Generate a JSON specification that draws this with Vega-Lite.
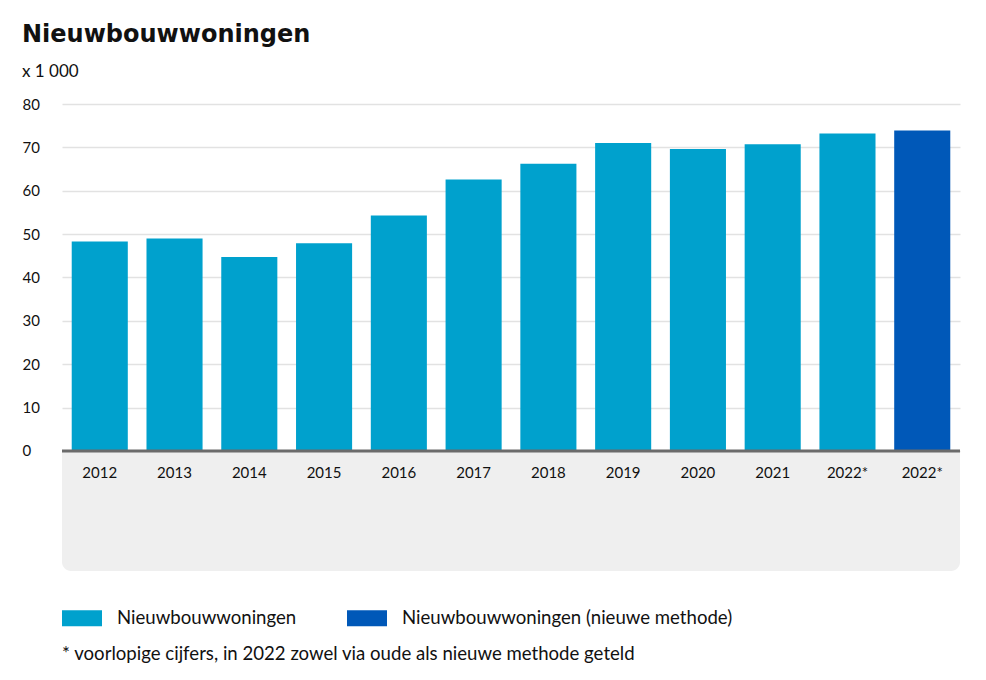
{
  "$schema": "https://vega.github.io/schema/vega-lite/v6.json",
  "width": 898,
  "height": 467,
  "padding": {"left": 22, "top": 23, "right": 26, "bottom": 6},
  "title": {
    "text": "Nieuwbouwwoningen",
    "subtitle": "x 1 000",
    "anchor": "start",
    "frame": "bounds",
    "font": "DejaVu Sans",
    "fontSize": 24,
    "fontWeight": "bold",
    "color": "#111111",
    "subtitleFont": "Lato",
    "subtitleFontSize": 17,
    "subtitleColor": "#111111",
    "subtitlePadding": 17,
    "offset": 17
  },
  "config": {
    "view": {"stroke": null},
    "font": "Lato"
  },
  "layer": [
    {
      "data": {
        "values": [
          {"jaar": "2012", "waarde": 48.3, "serie": "Nieuwbouwwoningen"},
          {"jaar": "2013", "waarde": 49.0, "serie": "Nieuwbouwwoningen"},
          {"jaar": "2014", "waarde": 44.7, "serie": "Nieuwbouwwoningen"},
          {"jaar": "2015", "waarde": 47.9, "serie": "Nieuwbouwwoningen"},
          {"jaar": "2016", "waarde": 54.3, "serie": "Nieuwbouwwoningen"},
          {"jaar": "2017", "waarde": 62.6, "serie": "Nieuwbouwwoningen"},
          {"jaar": "2018", "waarde": 66.2, "serie": "Nieuwbouwwoningen"},
          {"jaar": "2019", "waarde": 71.0, "serie": "Nieuwbouwwoningen"},
          {"jaar": "2020", "waarde": 69.6, "serie": "Nieuwbouwwoningen"},
          {"jaar": "2021", "waarde": 70.7, "serie": "Nieuwbouwwoningen"},
          {"jaar": "2022*", "waarde": 73.2, "serie": "Nieuwbouwwoningen"},
          {"jaar": "2022* nieuw", "waarde": 73.9, "serie": "Nieuwbouwwoningen (nieuwe methode)"}
        ]
      },
      "mark": {"type": "bar"},
      "encoding": {
        "x": {
          "field": "jaar",
          "type": "nominal",
          "sort": null,
          "scale": {"paddingInner": 0.25, "paddingOuter": 0.13},
          "axis": {
            "title": null,
            "orient": "bottom",
            "offset": -120,
            "zindex": 1,
            "domain": false,
            "ticks": false,
            "labelAngle": 0,
            "labelPadding": 14,
            "labelFont": "Lato",
            "labelFontSize": 15,
            "labelColor": "#111111",
            "labelExpr": "slice(datum.label, 0, 5)"
          }
        },
        "y": {
          "field": "waarde",
          "type": "quantitative",
          "scale": {"domain": [-27.67, 80], "nice": false, "zero": false},
          "axis": {
            "title": null,
            "values": [0, 10, 20, 30, 40, 50, 60, 70, 80],
            "grid": true,
            "gridColor": "#e2e2e2",
            "gridWidth": 1.5,
            "domain": false,
            "ticks": false,
            "labelAlign": "left",
            "labelPadding": 40,
            "labelFont": "Lato",
            "labelFontSize": 15,
            "labelColor": "#111111"
          }
        },
        "y2": {"datum": 0},
        "color": {
          "field": "serie",
          "type": "nominal",
          "scale": {
            "domain": ["Nieuwbouwwoningen", "Nieuwbouwwoningen (nieuwe methode)"],
            "range": ["#00a1cd", "#0058b8"]
          },
          "legend": {
            "orient": "bottom",
            "direction": "horizontal",
            "offset": 27,
            "title": "* voorlopige cijfers, in 2022 zowel via oude als nieuwe methode geteld",
            "titleOrient": "bottom",
            "titleAnchor": "start",
            "titleFont": "Lato",
            "titleFontSize": 18.6,
            "titleFontWeight": "normal",
            "titleColor": "#111111",
            "titleLimit": 1000,
            "titlePadding": 17,
            "symbolType": "M-1,-0.4H1V0.4H-1Z",
            "symbolSize": 1600,
            "symbolStrokeWidth": 0,
            "symbolOpacity": 1,
            "labelFont": "Lato",
            "labelFontSize": 18.6,
            "labelColor": "#111111",
            "labelOffset": 15,
            "labelLimit": 500,
            "columnPadding": 50
          }
        }
      }
    },
    {
      "data": {"values": [{"onder": -27.67, "boven": 0}]},
      "mark": {"type": "rect", "color": "#efefef", "cornerRadiusBottomLeft": 9, "cornerRadiusBottomRight": 9},
      "encoding": {
        "y": {"field": "onder", "type": "quantitative"},
        "y2": {"field": "boven"}
      }
    },
    {
      "data": {"values": [{"nul": 0}]},
      "mark": {"type": "rule", "color": "#6b6b6b", "strokeWidth": 3},
      "encoding": {
        "y": {"field": "nul", "type": "quantitative"}
      }
    }
  ]
}
